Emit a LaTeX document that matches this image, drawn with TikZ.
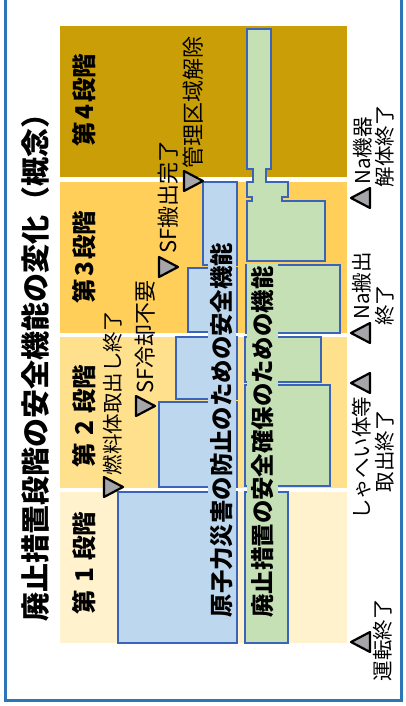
\documentclass[tikz,border=0pt]{standalone}
\usepackage{fontspec}
\setmainfont{Noto Sans CJK JP}
\definecolor{framec}{RGB}{46,117,182}
\definecolor{sfour}{RGB}{201,158,6}
\definecolor{sthree}{RGB}{255,207,90}
\definecolor{stwo}{RGB}{255,224,140}
\definecolor{sone}{RGB}{255,242,204}
\definecolor{bfill}{RGB}{189,215,238}
\definecolor{gfill}{RGB}{197,224,180}
\definecolor{bline}{RGB}{58,100,185}
\definecolor{trig}{RGB}{165,165,170}
\tikzset{
  bbox/.style={fill=bfill, draw=bline, line width=1.5pt},
  gbox/.style={fill=gfill, draw=bline, line width=1.5pt},
  rlabel/.style={rotate=90, inner sep=0pt},
  stagelbl/.style={rotate=90, inner sep=0pt, font=\bfseries\fontsize{24.5}{24.5}\selectfont},
  evlbl/.style={rotate=90, inner sep=0pt, font=\fontsize{22}{22}\selectfont},
  evlblb/.style={rotate=90, inner sep=0pt, font=\fontsize{20.5}{20.5}\selectfont},
  trimark/.style={fill=trig, draw=black, line width=2.2pt, line join=round}
}
\begin{document}
\begin{tikzpicture}[x=1pt,y=-1pt]
\useasboundingbox (0,0) rectangle (406,706);
\fill[white] (0,0) rectangle (406,706);
% frame
\draw[framec, line width=3pt] (5.5,-10) rectangle (401.5,700.5);
% title
\node[rlabel, font=\bfseries\fontsize{29}{29}\selectfont] (title) at (35,360.5) {廃止措置段階の安全機能の変化（概念）};
% stage backgrounds
\fill[sfour] (60,26) rectangle (347,177);
\fill[sthree] (60,182) rectangle (347,333);
\fill[stwo] (60,337) rectangle (347,488);
\fill[sone] (60,492) rectangle (347,643);
% stage labels
\node[stagelbl] (st4) at (84,100) {第\hspace{2pt}4\hspace{2pt}段階};
\node[stagelbl] (st3) at (84,257) {第\hspace{2pt}3\hspace{2pt}段階};
\node[stagelbl] (st2) at (84,416) {第\hspace{7pt}2\hspace{7pt}段階};
\node[stagelbl] (st1) at (84,563) {第\hspace{7pt}1\hspace{7pt}段階};
% blue boxes
\draw[bbox] (118,492) rectangle (237,643);
\draw[bbox] (159,402) rectangle (237,487);
\draw[bbox] (176,337) rectangle (237,399);
\draw[bbox] (188,268) rectangle (237,332);
\draw[bbox] (203,182) rectangle (237,265);
% green boxes
\draw[gbox] (245,492) rectangle (288,643);
\draw[gbox] (245,385) rectangle (330,486);
\draw[gbox] (245,337) rectangle (321,382);
\draw[gbox] (246,265) rectangle (340,333);
\draw[gbox] (247,29) -- (271,29) -- (271,169) -- (266,169) -- (266,182) -- (288,182)
  -- (288,197) -- (282,197) -- (282,201) -- (325,201) -- (325,261) -- (247,261)
  -- (247,201) -- (252,201) -- (252,197) -- (247,197) -- (247,182) -- (253,182)
  -- (253,169) -- (247,169) -- cycle;
% function labels
\node[rlabel, fill=bfill, minimum height=28.5pt, minimum width=380pt,
      font=\bfseries\fontsize{23.4}{23.4}\selectfont] (blab) at (221.75,430) {原子力災害の防止のための安全機能};
\node[rlabel, fill=gfill, minimum height=31pt, minimum width=356pt,
      font=\bfseries\fontsize{23.4}{23.4}\selectfont] (glab) at (262.5,442) {廃止措置の安全確保のための機能};
% top markers (pointing right)
\filldraw[trimark] (184,171) -- (184,191) -- (203,181) -- cycle;
\filldraw[trimark] (159,257) -- (159,277) -- (178,267) -- cycle;
\filldraw[trimark] (136,396) -- (136,416) -- (155,406) -- cycle;
\filldraw[trimark] (104,477) -- (104,497) -- (123,487) -- cycle;
\node[evlbl] (e1) at (193,102) {管理区域解除};
\node[evlbl] (e2) at (168,197) {SF搬出完了};
\node[evlbl] (e3) at (145,337) {SF冷却不要};
\node[evlblb] (e4) at (113,393) {燃料体取出し終了};
% bottom markers (pointing left)
\filldraw[trimark] (370,188) -- (370,208) -- (351,198) -- cycle;
\filldraw[trimark] (370,323) -- (370,343) -- (351,333) -- cycle;
\filldraw[trimark] (370,373) -- (370,393) -- (351,383) -- cycle;
\filldraw[trimark] (370,632) -- (370,652) -- (351,642) -- cycle;
\node[evlblb] (f1a) at (363,151) {Na機器};
\node[evlblb] (f1b) at (385,146) {解体終了};
\node[evlblb] (f2a) at (362,286) {Na搬出};
\node[evlblb] (f2b) at (385,305) {終了};
\node[evlblb] (f3a) at (362,458) {しゃへい体等};
\node[evlblb] (f3b) at (385,451) {取出終了};
\node[evlblb] (f4) at (383,640) {運転終了};
\end{tikzpicture}
\end{document}
